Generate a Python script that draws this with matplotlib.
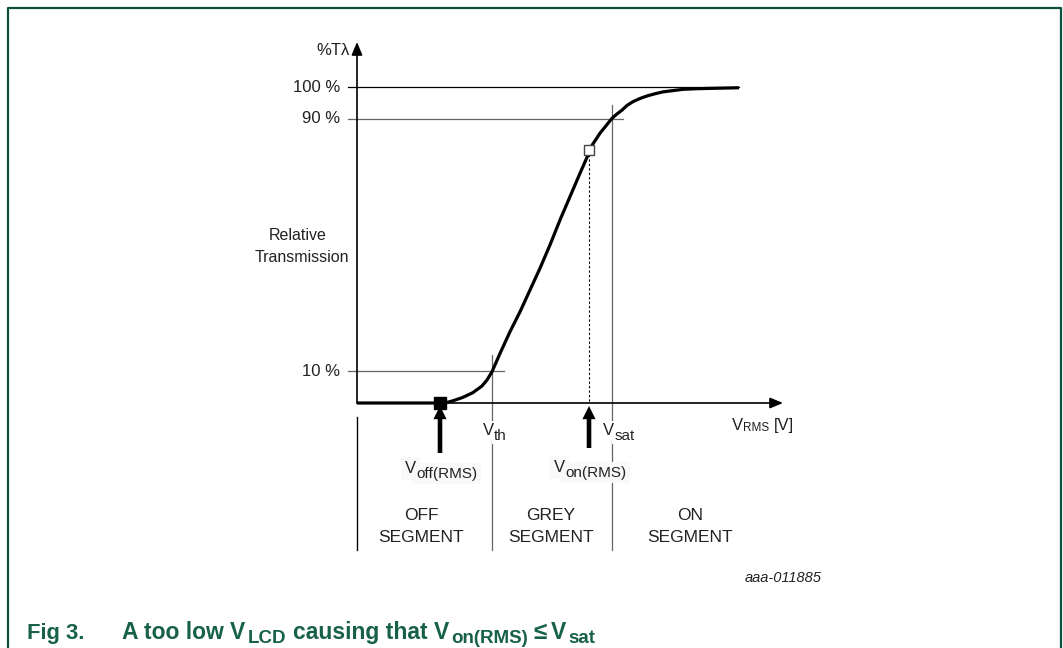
import matplotlib
matplotlib.use("Agg")
import matplotlib.pyplot as plt
from matplotlib.patches import FancyArrowPatch
from matplotlib.lines import Line2D

plt.rcParams['font.family'] = ['Liberation Sans', 'DejaVu Sans']

# ---------------- data (arbitrary voltage units, % transmission) ----------------
curve_v = [0.00, 0.83, 0.88, 0.96, 1.06, 1.16, 1.25, 1.30, 1.35, 1.43, 1.53, 1.63,
           1.73, 1.83, 1.93, 2.03, 2.13, 2.23, 2.31, 2.32, 2.43, 2.55, 2.60, 2.65,
           2.70, 2.76, 2.83, 2.90, 2.98, 3.06, 3.16, 3.26, 3.40, 3.53, 3.82]
curve_t = [0.0, 0.0, 0.0, 0.7, 1.8, 3.3, 5.4, 7.3, 9.9, 15.7, 22.6, 28.9,
           35.8, 42.7, 50.1, 58.0, 65.4, 72.8, 78.6, 80.2, 85.5, 90.2, 91.6, 92.8,
           94.3, 95.5, 96.5, 97.3, 98.0, 98.6, 99.0, 99.4, 99.6, 99.7, 99.9]
levels = [100, 90, 10]
level_labels = ["100 %", "90 %", "10 %"]
level_ends = [3.82, 2.66, 1.47]
v_th = 1.35
v_sat = 2.55
v_off = 0.83
v_on = 2.32
t_on = 80.2
segment_line1 = ["OFF", "GREY", "ON"]
segment_line2 = ["SEGMENT", "SEGMENT", "SEGMENT"]

# ---------------- figure / coordinate system ----------------
W, H = 1063, 648
fig = plt.figure(figsize=(W / 100, H / 100), dpi=100)
ax = fig.add_axes([0, 0, 1, 1])
X0, Y0 = 357, 403          # pixel of origin
SX, SY = 100.0, 3.1556     # px per unit
ax.set_xlim(-X0 / SX, (W - X0) / SX)
ax.set_ylim((Y0 - H) / SY, Y0 / SY)
ax.axis('off')


def px(x):
    return (x - X0) / SX


def py(y):
    return (Y0 - y) / SY


GRID = '#666666'
GREEN_FRAME = '#0d4f3f'
GREEN_TXT = '#17604a'
TXT = '#222222'
FS = 12


def _chain(x, y, parts, transform, zorder, bbox, **kw):
    t0, s0, dy0, _ = parts[0]
    prev = ax.annotate(t0, xy=(x, y), xycoords=transform, xytext=(0, dy0),
                       textcoords='offset points', fontsize=s0, ha='left',
                       va='baseline', zorder=zorder, bbox=bbox, **kw)
    for t, s, dy, gap in parts[1:]:
        prev = ax.annotate(t, xy=(1, y), xycoords=(prev, transform),
                           xytext=(gap, dy), textcoords='offset points',
                           fontsize=s, ha='left', va='baseline', zorder=zorder,
                           bbox=bbox, **kw)


def chain(x, y, parts, transform, bbox=None, **kw):
    """parts: list of (text, fontsize, dy_points, gap_points_before)."""
    if bbox is not None:
        # background pass: boxes only, invisible glyphs
        kw_bg = dict(kw)
        kw_bg['color'] = (0, 0, 0, 0)
        _chain(x, y, parts, transform, 6, bbox, **kw_bg)
    _chain(x, y, parts, transform, 7, None, **kw)


# frame (left, top, right)
fig.add_artist(Line2D([7.5 / W, 7.5 / W, 1061 / W, 1061 / W],
                      [0, 1 - 8 / H, 1 - 8 / H, 0],
                      transform=fig.transFigure, color=GREEN_FRAME, lw=1.6))

# level lines
for lv, lab, end in zip(levels, level_labels, level_ends):
    col = 'black' if lv == 100 else GRID
    ax.plot([px(348), end], [lv, lv], color=col, lw=0.9, zorder=2)
    ax.text(px(340), lv, lab, ha='right', va='center', fontsize=FS, color=TXT)

# vertical segment dividers
ax.plot([v_th, v_th], [py(355), py(550)], color=GRID, lw=0.9, zorder=2)
ax.plot([v_sat, v_sat], [py(105), py(550)], color=GRID, lw=0.9, zorder=2)
ax.plot([0, 0], [py(417), py(550)], color='black', lw=1.0, zorder=2)

# dotted drop line from Von marker
ax.plot([v_on, v_on], [t_on, 0], color='black', lw=0.8, ls=(0, (2, 2)), zorder=2)

# axes with arrows
for (xa, ya, xb, yb) in [(0, 0, 0, py(42)), (0, 0, px(783), 0)]:
    ax.add_patch(FancyArrowPatch((xa, ya), (xb, yb),
                                 arrowstyle='-|>,head_length=0.65,head_width=0.27',
                                 mutation_scale=12, lw=1.2, color='black',
                                 shrinkA=0, shrinkB=0, zorder=3))

# curve
ax.plot(curve_v, curve_t, color='black', lw=2.3, solid_capstyle='butt',
        solid_joinstyle='round', zorder=4)

# markers
ax.plot([v_off], [0], marker='s', ms=8.4, color='black', zorder=5)
ax.plot([v_on], [t_on], marker='s', ms=7.6, mfc='white', mec='#444444', mew=1.0, zorder=5)

# thick arrows
for v, y_tail in [(v_off, py(453)), (v_on, py(448))]:
    ax.add_patch(FancyArrowPatch((v, y_tail), (v, py(406)),
                                 arrowstyle='simple,head_length=0.95,head_width=0.95,tail_width=0.33',
                                 mutation_scale=10, color='black', lw=0,
                                 shrinkA=0, shrinkB=0, zorder=5))

# axis labels
ax.text(px(350), py(50), "%T\u03bb", ha='right', va='center', fontsize=FS, color=TXT)
ax.text(px(298), py(236), "Relative", ha='center', va='center', fontsize=11.5, color=TXT)
ax.text(px(302), py(257), "Transmission", ha='center', va='center', fontsize=11.5, color=TXT)
chain(px(732), py(430), [("V", FS, 0, 0), ("RMS", 8.5, -0.7, 0.2), ("[V]", FS, 0, 3.0)],
      ax.transData, color=TXT)

wb = dict(boxstyle='square,pad=0.12', fc='white', ec='none')
gb = dict(boxstyle='square,pad=0.25', fc='#f9f9f9', ec='none')
chain(px(483), py(435), [("V", FS, 0, 0), ("th", 11, -3.3, 0)], ax.transData,
      bbox=wb, color=TXT)
chain(px(603), py(435), [("V", FS, 0, 0), ("sat", 11, -3.3, 0)], ax.transData,
      bbox=wb, color=TXT)
chain(px(405), py(473), [("V", FS, 0, 0), ("off(RMS)", 11, -3.3, 0)], ax.transData,
      bbox=gb, color=TXT)
chain(px(554), py(472), [("V", FS, 0, 0), ("on(RMS)", 11, -3.3, 0)], ax.transData,
      bbox=gb, color=TXT)

# segment names
for xc, l1, l2 in zip([px(421), px(551), px(690)], segment_line1, segment_line2):
    ax.text(xc, py(516), l1, ha='center', va='center', fontsize=12.5, color=TXT)
    ax.text(xc, py(538), l2, ha='center', va='center', fontsize=12.5, color=TXT)

ax.text(px(783), py(578), "aaa-011885", ha='center', va='center', fontsize=10.5,
        style='italic', color=TXT)

# caption
CS, SS = 16.5, 13.5
SP = 0.278 * CS
SG = 1.8
cap_kw = dict(fontweight='bold', color=GREEN_TXT)
chain(27 / W, 1 - 639 / H, [("Fig 3.", 15.8, 0, 0)], fig.transFigure, **cap_kw)
chain(122 / W, 1 - 639 / H,
      [("A too low", CS, 0, 0), ("V", CS, 0, SP), ("LCD", SS, -3, SG),
       ("causing that", CS, 0, SP), ("V", CS, 0, SP), ("on(RMS)", SS, -3, SG),
       ("\u2264", 17.5, 0, 3.5), ("V", CS, 0, 3.2), ("sat", SS, -3, SG)],
      fig.transFigure, **cap_kw)

fig.savefig("out.png", dpi=100)
